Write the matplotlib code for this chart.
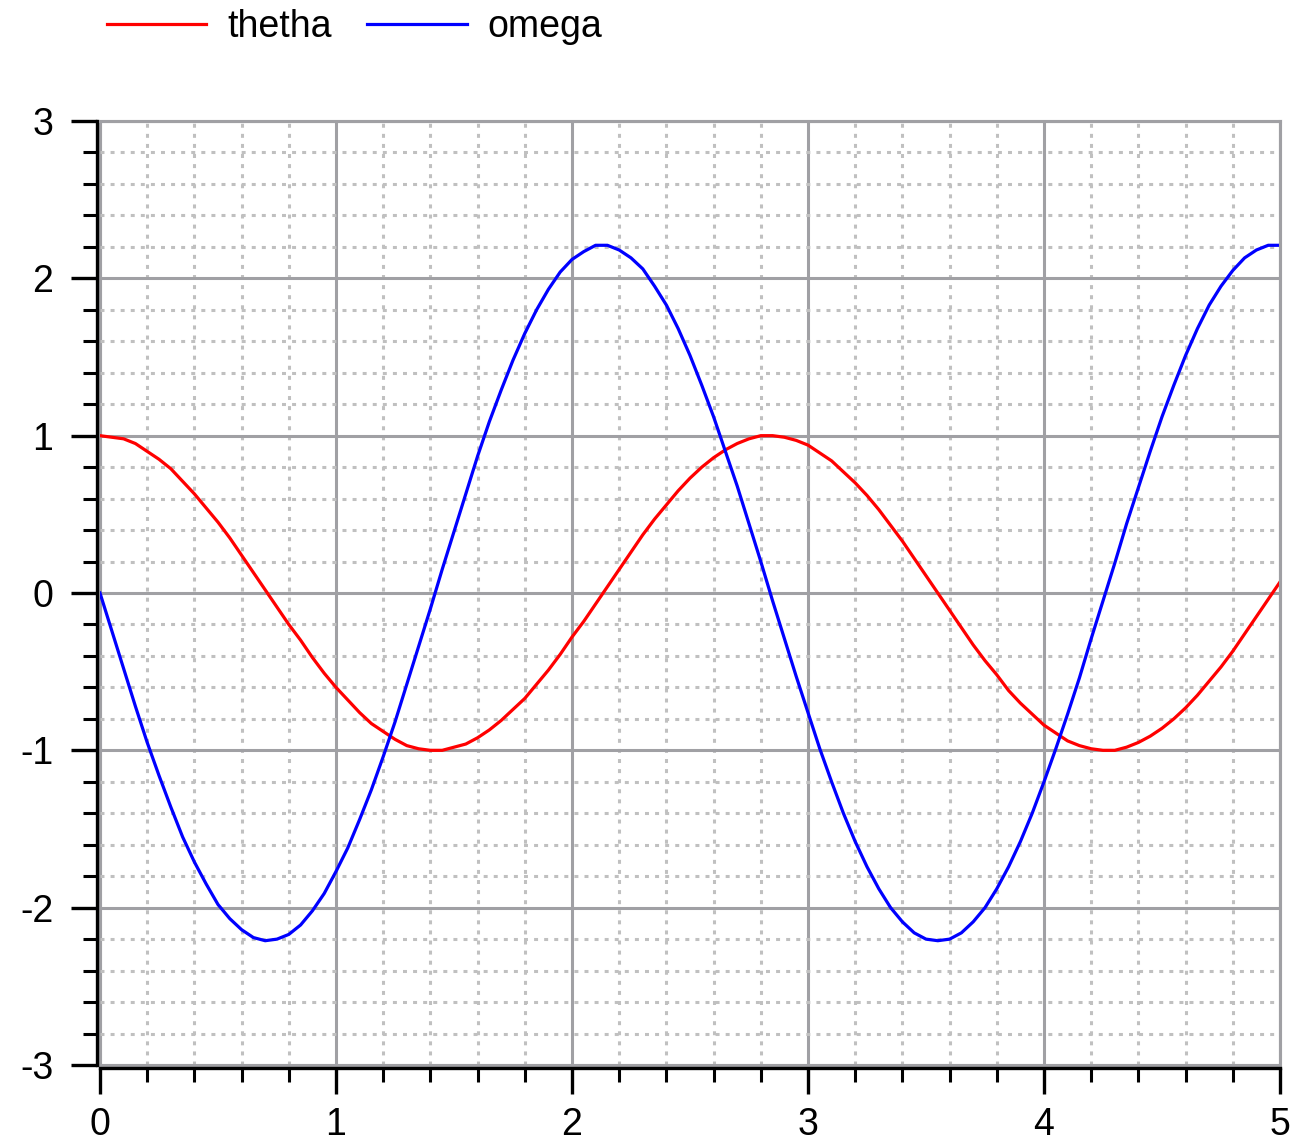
import matplotlib.pyplot as plt
from matplotlib.ticker import MultipleLocator

# czas symulacji [s], krok 0.05
t = [i / 20 for i in range(101)]

# kat wychylenia
thetha = [1.00, 0.99, 0.98, 0.95, 0.90, 0.85, 0.79, 0.71, 0.63, 0.54,
          0.45, 0.35, 0.24, 0.13, 0.02, -0.09, -0.20, -0.30, -0.41, -0.51,
          -0.60, -0.68, -0.76, -0.83, -0.88, -0.93, -0.97, -0.99, -1.00, -1.00,
          -0.98, -0.96, -0.92, -0.87, -0.81, -0.74, -0.67, -0.58, -0.49, -0.39,
          -0.28, -0.18, -0.07, 0.04, 0.15, 0.26, 0.37, 0.47, 0.56, 0.65,
          0.73, 0.80, 0.86, 0.91, 0.95, 0.98, 1.00, 1.00, 0.99, 0.97,
          0.94, 0.89, 0.84, 0.77, 0.70, 0.62, 0.53, 0.43, 0.33, 0.22,
          0.11, 0.00, -0.11, -0.22, -0.33, -0.43, -0.52, -0.62, -0.70, -0.77,
          -0.84, -0.89, -0.94, -0.97, -0.99, -1.00, -1.00, -0.98, -0.95, -0.91,
          -0.86, -0.80, -0.73, -0.65, -0.56, -0.47, -0.37, -0.26, -0.15, -0.04,
          0.07]

# predkosc katowa
omega = [0.00, -0.24, -0.48, -0.72, -0.95, -1.16, -1.36, -1.55, -1.71, -1.85,
         -1.98, -2.07, -2.14, -2.19, -2.21, -2.20, -2.17, -2.11, -2.02, -1.91,
         -1.77, -1.62, -1.44, -1.25, -1.04, -0.82, -0.58, -0.34, -0.10, 0.15,
         0.39, 0.63, 0.87, 1.09, 1.29, 1.48, 1.65, 1.80, 1.93, 2.04,
         2.12, 2.17, 2.21, 2.21, 2.18, 2.13, 2.06, 1.95, 1.83, 1.68,
         1.51, 1.32, 1.12, 0.90, 0.68, 0.44, 0.20, -0.05, -0.29, -0.53,
         -0.76, -0.99, -1.20, -1.40, -1.58, -1.74, -1.88, -2.00, -2.09, -2.16,
         -2.20, -2.21, -2.20, -2.16, -2.09, -2.00, -1.88, -1.74, -1.58, -1.40,
         -1.20, -0.99, -0.77, -0.54, -0.29, -0.05, 0.19, 0.44, 0.67, 0.90,
         1.12, 1.32, 1.51, 1.68, 1.83, 1.95, 2.05, 2.13, 2.18, 2.21,
         2.21]

plt.rcParams['font.family'] = ['Liberation Sans', 'DejaVu Sans']
plt.rcParams['font.size'] = 27
plt.rcParams['axes.unicode_minus'] = False

W, H = 1292, 1148
fig = plt.figure(figsize=(W / 100, H / 100), dpi=100)
ax = fig.add_axes([100 / W, 1 - 1065 / H, 1180 / W, 944 / H])

ax.plot(t, thetha, color='#ff0000', linewidth=2.3, label='thetha')
ax.plot(t, omega, color='#0000ff', linewidth=2.3, label='omega')

ax.set_xlim(0, 5)
ax.set_ylim(-3, 3)
ax.xaxis.set_major_locator(MultipleLocator(1))
ax.xaxis.set_minor_locator(MultipleLocator(0.2))
ax.yaxis.set_major_locator(MultipleLocator(1))
ax.yaxis.set_minor_locator(MultipleLocator(0.2))

# siatka
ax.grid(True, which='major', color='#a0a0a4', linewidth=2.2, linestyle='-')
ax.grid(True, which='minor', color='#c0c0c0', linewidth=2.2, linestyle=(0, (1.3, 2.0)))
ax.set_axisbelow(True)

# ramka
for s in ['top', 'right']:
    ax.spines[s].set_color('#a0a0a4')
    ax.spines[s].set_linewidth(2.2)
for s in ['left', 'bottom']:
    ax.spines[s].set_color('black')
    ax.spines[s].set_linewidth(2.4)
    ax.spines[s].set_position(('outward', 2.5))
ax.patch.set_edgecolor('#a0a0a4')
ax.patch.set_linewidth(2.2)

ax.tick_params(which='major', direction='out', length=19, width=2.4, color='black')
ax.tick_params(which='minor', direction='out', length=10, width=2.2, color='black')
ax.tick_params(axis='y', which='major', pad=12)
ax.tick_params(axis='x', which='major', pad=9)

fig.legend(loc='center left', bbox_to_anchor=(107 / W, 1 - 27 / H), ncol=2,
           frameon=False, borderpad=0, borderaxespad=0, handlelength=2.65,
           handletextpad=0.55, columnspacing=0.95, fontsize=27)

plt.savefig('out.png', dpi=100)
